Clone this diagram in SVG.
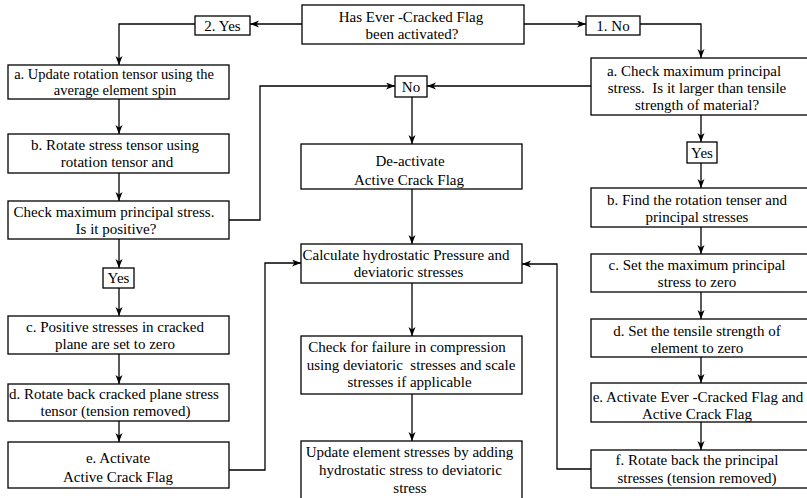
<svg xmlns="http://www.w3.org/2000/svg" width="807" height="498" viewBox="0 0 807 498">
<defs>
<marker id="ah" markerUnits="userSpaceOnUse" markerWidth="10" markerHeight="8" refX="9" refY="3.5" orient="auto">
<path d="M0,0 L9,3.5 L0,7 L2.5,3.5 z" fill="#000"/>
</marker>
</defs>
<style>
.b{fill:#fff;stroke:#000;stroke-width:1.3}
.t{font-family:"Liberation Serif","Times New Roman",serif;font-size:15px;text-anchor:middle;fill:#000}
.s{font-size:14.5px}
.c{fill:none;stroke:#000;stroke-width:1.3;marker-end:url(#ah)}
</style>
<rect width="807" height="498" fill="#fff"/>
<g id="connectors">
<path class="c" d="M302,24 H250"/>
<path class="c" d="M195,24 H119 V65"/>
<path class="c" d="M119,99 V134"/>
<path class="c" d="M119,173 V201"/>
<path class="c" d="M119,239 V268"/>
<path class="c" d="M119,288 V316"/>
<path class="c" d="M119,354 V384"/>
<path class="c" d="M119,421 V442"/>
<path class="c" d="M229,470 H265 V263 H301"/>
<path class="c" d="M229,220 H260 V86 H395"/>
<path class="c" d="M591,86 H427"/>
<path class="c" d="M412,97 V144"/>
<path class="c" d="M412,189 V244"/>
<path class="c" d="M412,283 V336"/>
<path class="c" d="M412,394 V441"/>
<path class="c" d="M524,24 H586"/>
<path class="c" d="M640,24 H701 V58"/>
<path class="c" d="M701,115 V142"/>
<path class="c" d="M701,163 V188"/>
<path class="c" d="M701,227 V254"/>
<path class="c" d="M701,292 V319"/>
<path class="c" d="M701,357 V383"/>
<path class="c" d="M701,422 V450"/>
<path class="c" d="M591,469 H557 V264 H522"/>
</g>
<g id="n-top"><rect class="b" x="302" y="5" width="222" height="39"/>
<text class="t" x="411" y="22" xml:space="preserve">Has Ever -Cracked Flag</text>
<text class="t" x="412" y="39">been activated?</text></g>
<g id="n-yes2"><rect class="b" x="195" y="16" width="55" height="19"/><text class="t" x="222.5" y="30.5">2. Yes</text></g>
<g id="n-no1"><rect class="b" x="586" y="16" width="54" height="19"/><text class="t" x="613" y="30.5">1. No</text></g>

<g id="n-la"><rect class="b" x="8" y="65" width="221" height="34"/>
<text class="t s" x="114" y="78.5">a. Update rotation tensor using the</text>
<text class="t s" x="115" y="95">average element spin</text></g>
<g id="n-lb"><rect class="b" x="8" y="134" width="221" height="39"/>
<text class="t" x="115" y="149.5">b. Rotate stress tensor using</text>
<text class="t" x="117" y="166.5">rotation tensor and</text></g>
<g id="n-lcheck"><rect class="b" x="8" y="201" width="221" height="38"/>
<text class="t" x="114" y="217">Check maximum principal stress.</text>
<text class="t" x="116" y="234">Is it positive?</text></g>
<g id="n-lyes"><rect class="b" x="103" y="268" width="31" height="20"/><text class="t" x="118.5" y="283">Yes</text></g>
<g id="n-lc"><rect class="b" x="8" y="316" width="221" height="38"/>
<text class="t" x="115" y="332">c. Positive stresses in cracked</text>
<text class="t" x="115" y="349">plane are set to zero</text></g>
<g id="n-ld"><rect class="b" x="8" y="384" width="221" height="37"/>
<text class="t" x="114" y="398.5">d. Rotate back cracked plane stress</text>
<text class="t" x="115.5" y="416">tensor (tension removed)</text></g>
<g id="n-le"><rect class="b" x="8" y="442" width="221" height="46"/>
<text class="t" x="118" y="463">e. Activate</text>
<text class="t" x="118" y="482">Active Crack Flag</text></g>

<g id="n-no"><rect class="b" x="395" y="76" width="32" height="21"/><text class="t" x="411" y="92">No</text></g>
<g id="n-deact"><rect class="b" x="301" y="144" width="221" height="45"/>
<text class="t" x="410" y="166">De-activate</text>
<text class="t" x="409" y="185">Active Crack Flag</text></g>
<g id="n-calc"><rect class="b" x="301" y="244" width="221" height="39"/>
<text class="t" x="406" y="260">Calculate hydrostatic Pressure and</text>
<text class="t" x="408.5" y="277">deviatoric stresses</text></g>
<g id="n-fail"><rect class="b" x="301" y="336" width="221" height="58"/>
<text class="t" x="407" y="352">Check for failure in compression</text>
<text class="t" x="411" y="369.5" xml:space="preserve">using deviatoric  stresses and scale</text>
<text class="t" x="409.5" y="387">stresses if applicable</text></g>
<g id="n-update"><rect class="b" x="301" y="441" width="221" height="62"/>
<text class="t" x="409.5" y="457">Update element stresses by adding</text>
<text class="t" x="410.5" y="475">hydrostatic stress to deviatoric</text>
<text class="t" x="410" y="493">stress</text></g>

<g id="n-ra"><rect class="b" x="591" y="58" width="225" height="57"/>
<text class="t" x="694" y="76">a. Check maximum principal</text>
<text class="t" x="697" y="93" xml:space="preserve">stress.  Is it larger than tensile</text>
<text class="t" x="697" y="110">strength of material?</text></g>
<g id="n-ryes"><rect class="b" x="687" y="142" width="30" height="21"/><text class="t" x="702" y="157.5">Yes</text></g>
<g id="n-rb"><rect class="b" x="591" y="188" width="225" height="39"/>
<text class="t" x="697" y="205">b. Find the rotation tenser and</text>
<text class="t" x="697" y="222">principal stresses</text></g>
<g id="n-rc"><rect class="b" x="591" y="254" width="225" height="38"/>
<text class="t" x="697" y="270">c. Set the maximum principal</text>
<text class="t" x="697" y="287">stress to zero</text></g>
<g id="n-rd"><rect class="b" x="591" y="319" width="225" height="38"/>
<text class="t" x="697" y="336">d. Set the tensile strength of</text>
<text class="t" x="697" y="353">element to zero</text></g>
<g id="n-re"><rect class="b" x="591" y="383" width="225" height="39"/>
<text class="t" x="698" y="402">e. Activate Ever -Cracked Flag and</text>
<text class="t" x="697" y="419">Active Crack Flag</text></g>
<g id="n-rf"><rect class="b" x="591" y="450" width="225" height="38"/>
<text class="t" x="697" y="465">f. Rotate back the principal</text>
<text class="t" x="697" y="483">stresses (tension removed)</text></g>
</svg>
